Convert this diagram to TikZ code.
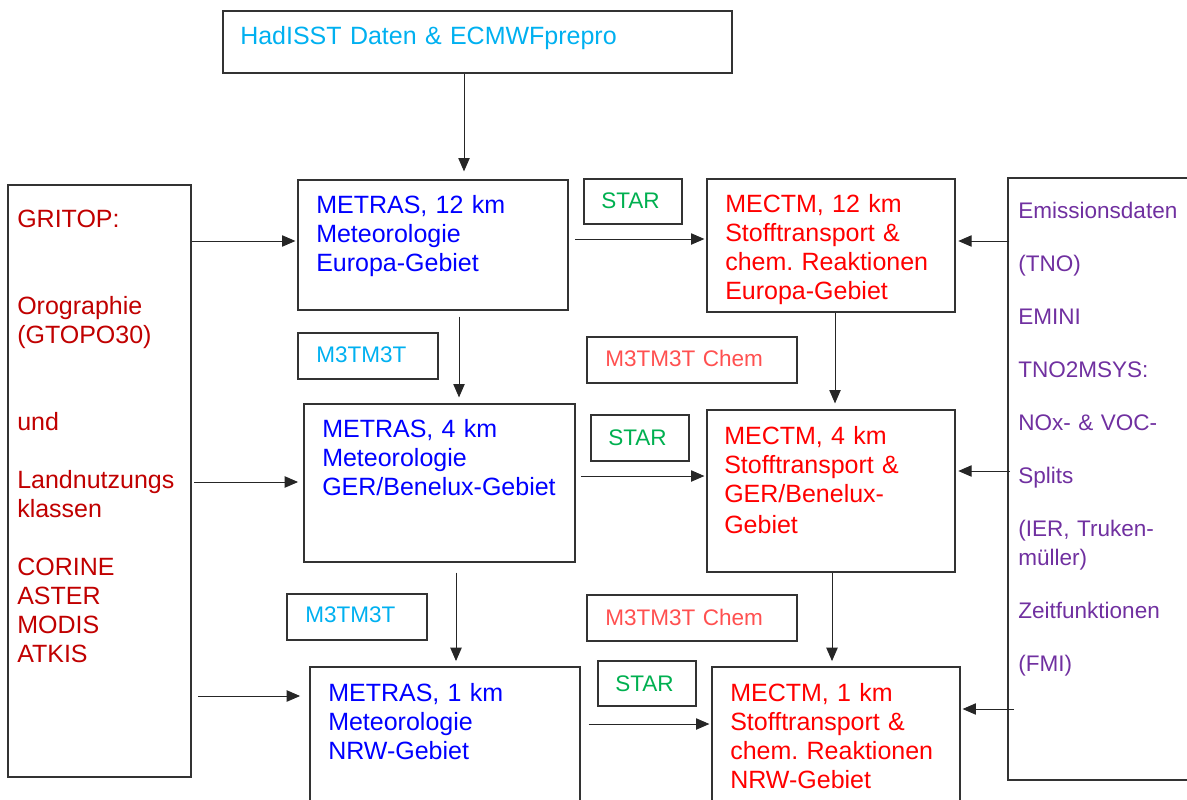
\documentclass[tikz,border=0pt]{standalone}
\usepackage{fontspec}
\setmainfont{Liberation Sans}
\frenchspacing
\usetikzlibrary{arrows.meta,fit}

\definecolor{hadcyan}{RGB}{0,176,240}
\definecolor{metblue}{RGB}{0,0,255}
\definecolor{ctmred}{RGB}{255,0,0}
\definecolor{gritred}{RGB}{192,0,0}
\definecolor{stargreen}{RGB}{0,176,80}
\definecolor{chemred}{RGB}{255,80,80}
\definecolor{emipurple}{RGB}{112,48,160}

\begin{document}
\begin{tikzpicture}[
    x=0.75pt, y=-0.75pt,
    box/.style={draw=black!80, line width=0.9pt, inner sep=0pt},
    txt/.style={anchor=base west, inner sep=0pt, align=left, text width=360pt, font=\fontsize{18.75}{21.75}\selectfont},
    smalltxt/.style={txt, font=\fontsize{16.9}{21.75}\selectfont},
    arrow/.style={-{Triangle[length=10pt, width=8.5pt]}, line width=0.7pt, black!85}
]
\useasboundingbox (0,0) rectangle (1187,799);

% === Input data ===
\node[box, fit={(223,11) (732,73)}] (had) {};
\node[txt, text=hadcyan] (hadtxt) at (240,45) {HadISST Daten \& ECMWFprepro};

\node[box, fit={(8,185) (191,777)}] (grit) {};
\node[txt, text=gritred] (grittxt) at (17,227) {GRITOP:\\[43.5pt]Orographie\\(GTOPO30)\\[43.5pt]und\\[21.75pt]Landnutzungs\\klassen\\[21.75pt]CORINE\\ASTER\\MODIS\\ATKIS};

\node[box, fit={(1008,178) (1200,780)}] (emi) {};
\node[smalltxt, text=emipurple] (emitxt) at (1018,218) {Emissionsdaten\\[18pt](TNO)\\[18pt]EMINI\\[18pt]TNO2MSYS:\\[18pt]NOx- \& VOC-\\[18pt]Splits\\[18pt](IER, Truken-\\müller)\\[18pt]Zeitfunktionen\\[18pt](FMI)};

% === METRAS (meteorology) ===
\node[box, fit={(298,180) (568,310)}] (met12) {};
\node[txt, text=metblue] (met12txt) at (316,213) {METRAS, 12 km\\Meteorologie\\Europa-Gebiet};
\node[box, fit={(304,404) (575,562)}] (met4) {};
\node[txt, text=metblue] (met4txt) at (322,437) {METRAS, 4 km\\Meteorologie\\GER/Benelux-Gebiet};
\node[box, fit={(310,667) (580,830)}] (met1) {};
\node[txt, text=metblue] (met1txt) at (328,701) {METRAS, 1 km\\Meteorologie\\NRW-Gebiet};

% === MECTM (chemistry transport) ===
\node[box, fit={(707,179) (955,312)}] (ctm12) {};
\node[txt, text=ctmred] (ctm12txt) at (725,212) {MECTM, 12 km\\Stofftransport \&\\chem. Reaktionen\\Europa-Gebiet};
\node[box, fit={(707,410) (955,572)}] (ctm4) {};
\node[txt, text=ctmred] (ctm4txt) at (724,444) {MECTM, 4 km\\Stofftransport \&\\GER/Benelux-\\[1.5pt]Gebiet};
\node[box, fit={(712,667) (960,830)}] (ctm1) {};
\node[txt, text=ctmred] (ctm1txt) at (730,701) {MECTM, 1 km\\Stofftransport \&\\chem. Reaktionen\\NRW-Gebiet};

% === Interface programs ===
\node[box, fit={(584,179) (682,224)}] (star12) {};
\node[smalltxt, text=stargreen] (star12txt) at (601,208) {STAR};
\node[box, fit={(591,415) (689,461)}] (star4) {};
\node[smalltxt, text=stargreen] (star4txt) at (608,445) {STAR};
\node[box, fit={(598,661) (696,706)}] (star1) {};
\node[smalltxt, text=stargreen] (star1txt) at (615,691) {STAR};

\node[box, fit={(298,333) (438,379)}] (nest4) {};
\node[smalltxt, text=hadcyan] (nest4txt) at (316,362) {M3TM3T};
\node[box, fit={(287,594) (427,640)}] (nest1) {};
\node[smalltxt, text=hadcyan] (nest1txt) at (305,622) {M3TM3T};
\node[box, fit={(587,337) (797,383)}] (chem4) {};
\node[smalltxt, text=chemred] (chem4txt) at (605,366) {M3TM3T Chem};
\node[box, fit={(587,595) (797,641)}] (chem1) {};
\node[smalltxt, text=chemred] (chem1txt) at (605,625) {M3TM3T Chem};

% Arrows: forcing data
\draw[arrow, shorten >=6pt] (had.south -| 464,0) -- (met12.north -| 464,0);
\draw[arrow, shorten >=1.5pt] (grit.east |- 0,241) -- (met12.west |- 0,241);
\draw[arrow, shorten <=2pt, shorten >=4pt] (grit.east |- 0,482) -- (met4.west |- 0,482);
\draw[arrow, shorten <=5pt, shorten >=7pt] (grit.east |- 0,696) -- (met1.west |- 0,696);

% Arrows: meteorology to chemistry
\draw[arrow, shorten <=5pt, shorten >=1.5pt] (met12.east |- 0,239) -- (ctm12.west |- 0,239);
\draw[arrow, shorten <=4pt, shorten >=1.5pt] (met4.east |- 0,476) -- (ctm4.west |- 0,476);
\draw[arrow, shorten <=6pt, shorten >=1.5pt] (met1.east |- 0,724) -- (ctm1.west |- 0,724);

% Arrows: nesting
\draw[arrow, shorten <=4.5pt, shorten >=4.5pt] (met12.south -| 459,0) -- (met4.north -| 459,0);
\draw[arrow, shorten <=7.5pt, shorten >=4pt] (met4.south -| 456,0) -- (met1.north -| 456,0);
\draw[arrow, shorten >=4.5pt] (ctm12.south -| 835,0) -- (ctm4.north -| 835,0);
\draw[arrow, shorten >=4pt] (ctm4.south -| 832,0) -- (ctm1.north -| 832,0);

% Arrows: emissions
\draw[arrow, shorten <=-1.5pt, shorten >=2pt] (emi.west |- 0,241) -- (ctm12.east |- 0,241);
\draw[arrow, shorten <=-2pt, shorten >=2pt] (emi.west |- 0,471) -- (ctm4.east |- 0,471);
\draw[arrow, shorten <=-5pt, shorten >=1.5pt] (emi.west |- 0,709) -- (ctm1.east |- 0,709);

\end{tikzpicture}
\end{document}
